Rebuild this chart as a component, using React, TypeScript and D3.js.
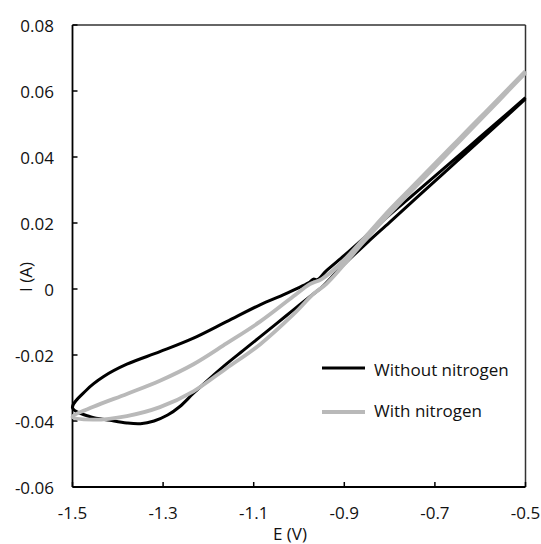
import React from "react";
import * as d3 from "d3";

// ---- Data ----
const xTicks = [-1.5, -1.3, -1.1, -0.9, -0.7, -0.5];
const yTicks = [-0.06, -0.04, -0.02, 0, 0.02, 0.04, 0.06, 0.08];
const seriesNames = ["Without nitrogen", "With nitrogen"];

const withoutE = [
  -0.5, -0.55, -0.6, -0.65, -0.7, -0.75, -0.8, -0.85, -0.9, -0.94, -0.96, -0.968, -0.976,
  -1.03, -1.086, -1.16, -1.233, -1.307, -1.38, -1.432, -1.469, -1.5,
  -1.461, -1.417, -1.38, -1.35, -1.32, -1.29, -1.263, -1.233, -1.196, -1.16, -1.123, -1.086,
  -1.049, -1.013, -0.976, -0.95, -0.91, -0.85, -0.8, -0.733, -0.65, -0.57, -0.5,
];
const withoutI = [
  0.058, 0.052, 0.0461, 0.0401, 0.0342, 0.0283, 0.0225, 0.0163, 0.0102, 0.0055, 0.0028, 0.003, 0.0021,
  -0.0015, -0.0048, -0.0099, -0.0149, -0.019, -0.0228, -0.0266, -0.0306, -0.036,
  -0.0387, -0.0398, -0.0406, -0.0408, -0.04, -0.0382, -0.0356, -0.0316, -0.027, -0.0227, -0.0186, -0.0145,
  -0.0104, -0.0064, -0.0023, 0.0005, 0.0062, 0.0140, 0.0202, 0.0286, 0.0389, 0.0488, 0.0576,
];

const withE = [
  -0.5, -0.55, -0.6, -0.65, -0.7, -0.755, -0.8, -0.859, -0.91, -0.95, -0.976,
  -1.013, -1.086, -1.16, -1.233, -1.307, -1.38, -1.454, -1.5,
  -1.454, -1.38, -1.307, -1.233, -1.16, -1.086, -1.013, -0.968, -0.94, -0.9, -0.859, -0.8, -0.7, -0.6, -0.5,
];
const withI = [
  0.066, 0.059, 0.052, 0.045, 0.038, 0.0303, 0.024, 0.015, 0.0075, 0.003, 0.0015,
  -0.0023, -0.0099, -0.0165, -0.0228, -0.0278, -0.0318, -0.0357, -0.0388,
  -0.0396, -0.0385, -0.0358, -0.031, -0.024, -0.0168, -0.0078, -0.0015, 0.0015, 0.0075, 0.014, 0.0228, 0.037, 0.0512, 0.0655,
];

const W = 541;
const H = 544;
const M = { left: 72.5, right: 525.5, top: 25, bottom: 487 };
const FONT = "'Open Sans', 'Noto Sans', sans-serif";
const FS = 17;

export default function App() {
  const x = d3.scaleLinear().domain([-1.5, -0.5]).range([M.left, M.right]);
  const y = d3.scaleLinear().domain([-0.06, 0.08]).range([M.bottom, M.top]);

  const line = d3
    .line<[number, number]>()
    .x((d) => x(d[0]))
    .y((d) => y(d[1]))
    .curve(d3.curveCatmullRom.alpha(0.5));

  const blackPts = withoutE.map((e, i) => [e, withoutI[i]] as [number, number]);
  const grayPts = withE.map((e, i) => [e, withI[i]] as [number, number]);

  const black = "#000000";
  const gray = "#b9b9b9";

  return (
    <svg
      width={W}
      height={H}
      style={{ position: "absolute", left: 0, top: 0, background: "#fff" }}
      fontFamily={FONT}
    >
      <rect x={0} y={0} width={W} height={H} fill="#fff" />
      {/* frame */}
      <line x1={M.left} x2={M.right} y1={M.top} y2={M.top} stroke="#333" strokeWidth={1.3} />
      <line x1={M.right} x2={M.right} y1={M.top} y2={M.bottom} stroke="#333" strokeWidth={1.5} />
      <line x1={M.left} x2={M.left} y1={M.top} y2={M.bottom} stroke="#000" strokeWidth={1.8} />
      <line x1={M.left} x2={M.right} y1={M.bottom} y2={M.bottom} stroke="#000" strokeWidth={1.8} />

      {/* y ticks */}
      {yTicks.map((t) => (
        <g key={"y" + t}>
          <line x1={M.left} x2={M.left + 5} y1={y(t)} y2={y(t)} stroke="#000" strokeWidth={1.5} />
          <text
            x={54}
            y={y(t)}
            textAnchor="end"
            dominantBaseline="central"
            fontSize={FS}
            fill="#111"
          >
            {t === 0 ? "0" : t.toFixed(2)}
          </text>
        </g>
      ))}

      {/* x ticks */}
      {xTicks.map((t) => (
        <g key={"x" + t}>
          <line x1={x(t)} x2={x(t)} y1={M.bottom} y2={M.bottom - 5} stroke="#000" strokeWidth={1.5} />
          <text
            x={x(t)}
            y={512}
            textAnchor="middle"
            dominantBaseline="central"
            fontSize={FS}
            fill="#111"
          >
            {t.toFixed(1)}
          </text>
        </g>
      ))}

      <text x={290} y={533} textAnchor="middle" dominantBaseline="central" fontSize={FS} fill="#111">
        E (V)
      </text>
      <text
        transform={`translate(25,277) rotate(-90)`}
        textAnchor="middle"
        dominantBaseline="central"
        fontSize={FS}
        fill="#111"
      >
        I (A)
      </text>

      {/* series */}
      <path d={line(blackPts) ?? ""} fill="none" stroke={black} strokeWidth={3} strokeLinejoin="round" />
      <path d={line(grayPts) ?? ""} fill="none" stroke={gray} strokeWidth={3.8} strokeLinejoin="round" />

      {/* legend */}
      <line x1={322} x2={365} y1={368} y2={368} stroke={black} strokeWidth={3} />
      <text x={374} y={369.5} dominantBaseline="central" fontSize={FS} fill="#111">
        {seriesNames[0]}
      </text>
      <line x1={322} x2={365} y1={412} y2={412} stroke={gray} strokeWidth={3.8} />
      <text x={374} y={410.5} dominantBaseline="central" fontSize={FS} fill="#111">
        {seriesNames[1]}
      </text>
    </svg>
  );
}
